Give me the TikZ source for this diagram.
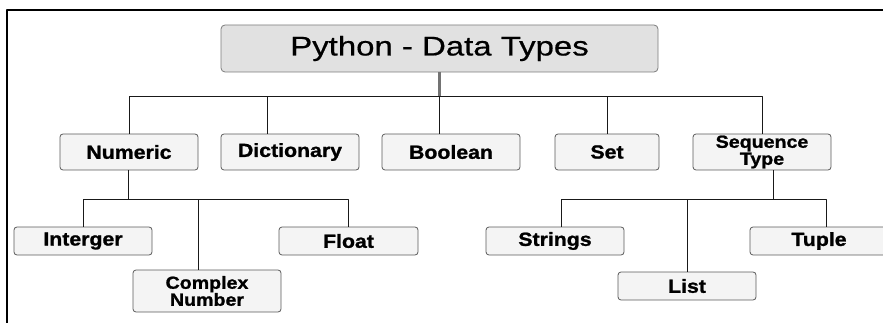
\documentclass[tikz,border=0pt]{standalone}
\usepackage{fontspec}
\newfontfamily\rootfont{Liberation Sans}[FakeStretch=1.22, FakeBold=0.6]
\newfontfamily\boxfont{Liberation Sans}[FakeStretch=1.12, BoldFeatures={FakeBold=1.2}]
\definecolor{rootgray}{HTML}{E1E1E1}
\definecolor{boxgray}{HTML}{F4F4F4}
\definecolor{edgegray}{HTML}{5A5A5A}
\tikzset{
    rootbox/.style={draw=edgegray!80, fill=rootgray, rounded corners=4pt, line width=0.8pt,
        minimum width=437pt, minimum height=47pt, inner sep=0pt,
        font=\rootfont\fontsize{27}{28}\selectfont},
    typebox/.style={draw=edgegray, fill=boxgray, rounded corners=3pt, line width=0.8pt,
        minimum width=138pt, minimum height=#1, inner sep=0pt, align=center,
        font=\boxfont\bfseries\fontsize{19}{19}\selectfont},
    typebox/.default=28pt,
    twoline/.style={font=\boxfont\bfseries\fontsize{17.5}{17}\selectfont},
    link/.style={draw=black!90, line width=0.9pt},
    stem/.style={draw=black!55, line width=3pt},
    frame/.style={draw=black, line width=2pt}
}

\begin{document}
\begin{tikzpicture}[x=1pt, y=-1pt, line join=round]
    \useasboundingbox (0,0) rectangle (883,323);
    \draw[frame] (7,330) -- (7,10) -- (890,10);
    % top
    \node[rootbox] (root) at (439.5,48.5) {Python - Data Types};
    \coordinate (rootbus) at (439.5,96);
    % first level
    \node[typebox=36pt] (num) at (129,152) {Numeric};
    \node[typebox=36pt] (dict) at (290,152) {Dictionary};
    \node[typebox=36pt] (bool) at (451,152) {Boolean};
    \node[typebox=36pt, minimum width=104pt] (set) at (607,152) {Set};
    \node[typebox=36pt, twoline] (seq) at (762,152) {Sequence\\Type};
    % numeric types
    \coordinate (numbus) at (128,199);
    \node[typebox] (int) at (83,241) {Interger};
    \node[typebox, twoline, minimum width=148pt, minimum height=42pt] (cplx) at (207,291) {Complex\\Number};
    \node[typebox, minimum width=139pt] (flt) at (348.5,241) {Float};
    % sequence types
    \coordinate (seqbus) at (773,199);
    \node[typebox] (str) at (555,241) {Strings};
    \node[typebox] (lst) at (687,286) {List};
    \node[typebox] (tup) at (819,241) {Tuple};

    \draw[stem] (root.south) -- (rootbus);
    \draw[link] (rootbus) -| (num.north);
    \draw[link] (rootbus) -| ([xshift=-23pt]dict.north);
    \draw[link] (rootbus) -| ([xshift=-12pt]bool.north);
    \draw[link] (rootbus) -| (set.north);
    \draw[link] (rootbus) -| (seq.north);

    \draw[link] (num.south -| numbus) -- (numbus);
    \draw[link] (numbus) -| (int.north);
    \draw[link] (numbus) -| ([xshift=-9pt]cplx.north);
    \draw[link] (numbus) -| (flt.north);

    \draw[link] (seq.south -| seqbus) -- (seqbus);
    \draw[link] (seqbus) -| ([xshift=6pt]str.north);
    \draw[link] (seqbus) -| (lst.north);
    \draw[link] (seqbus) -| ([xshift=7pt]tup.north);
\end{tikzpicture}
\end{document}
